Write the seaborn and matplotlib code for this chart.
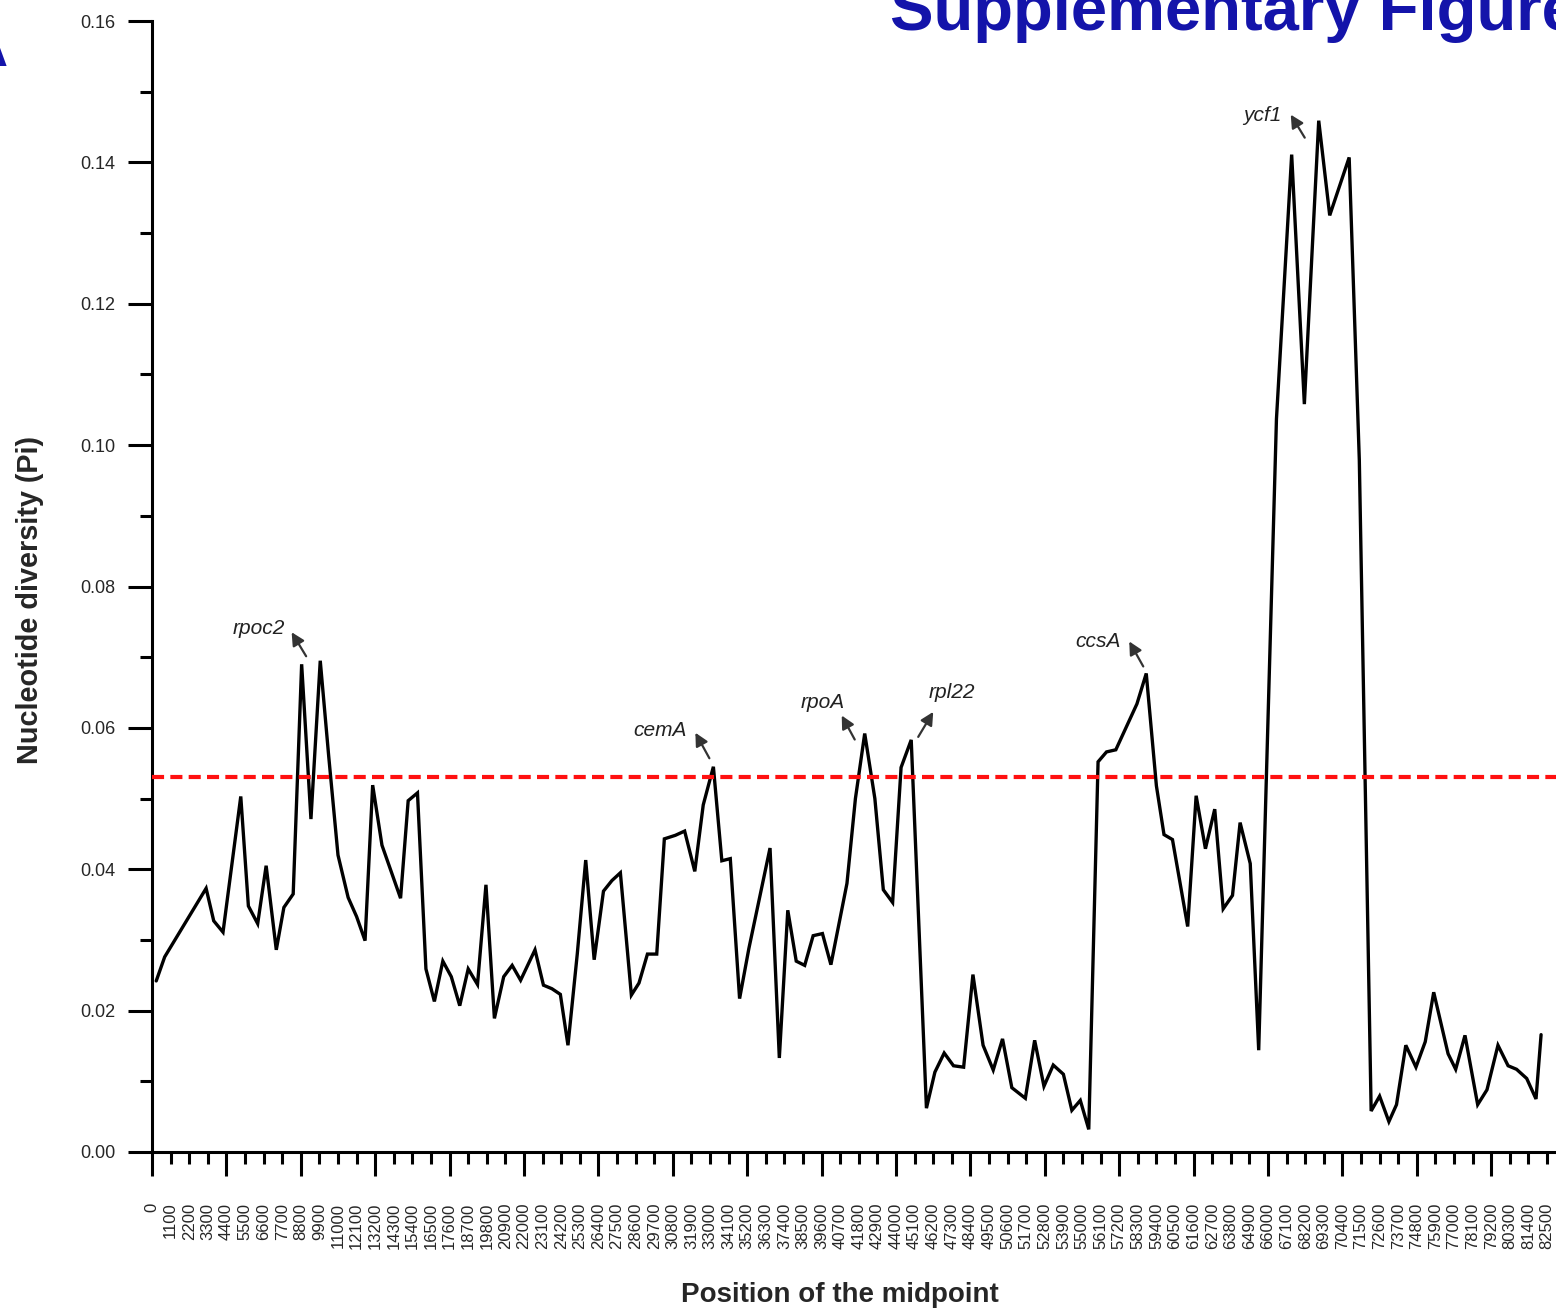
import numpy as np
import pandas as pd
import matplotlib
matplotlib.use("Agg")
import matplotlib.pyplot as plt
import matplotlib.transforms as mtrans
from matplotlib.ticker import FormatStrFormatter, MultipleLocator
import seaborn as sns

# ---------------- data ----------------
positions = [250, 750, 3200, 3650, 4200, 5250, 5700, 6250, 6750, 7350,
             7800, 8350, 8850, 9400, 9950, 10450, 11000, 11600, 12100, 12600,
             13050, 13600, 14700, 15150, 15700, 16200, 16700, 17200, 17700, 18200,
             18700, 19250, 19750, 20250, 20800, 21300, 21800, 22650, 23150, 23650,
             24150, 24600, 25150, 25650, 26150, 26700, 27200, 27700, 28350, 28800,
             29300, 29850, 30300, 30950, 31500, 32100, 32600, 33200, 33700, 34200,
             34750, 35300, 36550, 37100, 37600, 38100, 38600, 39100, 39650, 40150,
             41100, 41600, 42150, 42750, 43250, 43800, 44300, 44900, 45800, 46300,
             46850, 47400, 48000, 48550, 49150, 49750, 50300, 50850, 51650, 52200,
             52750, 53300, 53900, 54400, 54900, 55400, 55950, 56450, 57000, 58250,
             58800, 59400, 59850, 60350, 61250, 61750, 62300, 62850, 63350, 63900,
             64350, 64950, 65450, 66500, 67400, 68150, 69000, 69650, 70800, 71400,
             72100, 72600, 73150, 73600, 74150, 74750, 75300, 75800, 76650, 77100,
             77650, 78400, 78950, 79600, 80200, 80700, 81300, 81850, 82150]

pi_values = [0.0242, 0.0276, 0.0373, 0.0327, 0.0311, 0.0503, 0.0348, 0.0323, 0.0405, 0.0286,
             0.0346, 0.0365, 0.0690, 0.0471, 0.0695, 0.0560, 0.0420, 0.0360, 0.0333, 0.0299,
             0.0519, 0.0434, 0.0359, 0.0497, 0.0508, 0.0259, 0.0213, 0.0270, 0.0248, 0.0207,
             0.0259, 0.0237, 0.0378, 0.0189, 0.0248, 0.0264, 0.0243, 0.0286, 0.0236, 0.0231,
             0.0223, 0.0151, 0.0280, 0.0413, 0.0272, 0.0369, 0.0384, 0.0395, 0.0222, 0.0239,
             0.0280, 0.0280, 0.0443, 0.0448, 0.0454, 0.0397, 0.0491, 0.0545, 0.0412, 0.0415,
             0.0217, 0.0288, 0.0430, 0.0133, 0.0342, 0.0270, 0.0264, 0.0306, 0.0309, 0.0265,
             0.0380, 0.0500, 0.0592, 0.0500, 0.0371, 0.0353, 0.0544, 0.0583, 0.0062, 0.0113,
             0.0140, 0.0122, 0.0120, 0.0251, 0.0151, 0.0116, 0.0160, 0.0091, 0.0076, 0.0158,
             0.0093, 0.0123, 0.0110, 0.0059, 0.0073, 0.0032, 0.0552, 0.0566, 0.0569, 0.0634,
             0.0677, 0.0518, 0.0449, 0.0442, 0.0319, 0.0504, 0.0429, 0.0485, 0.0344, 0.0363,
             0.0466, 0.0408, 0.0144, 0.1037, 0.1411, 0.1058, 0.1459, 0.1325, 0.1407, 0.0979,
             0.0058, 0.0079, 0.0043, 0.0067, 0.0151, 0.0120, 0.0156, 0.0226, 0.0139, 0.0117,
             0.0165, 0.0067, 0.0088, 0.0151, 0.0122, 0.0117, 0.0104, 0.0075, 0.0166]

threshold = 0.053

x_tick_values = list(range(0, 82501, 1100))
x_tick_labels = [str(v) for v in x_tick_values]
y_tick_values = [0.00, 0.02, 0.04, 0.06, 0.08, 0.10, 0.12, 0.14, 0.16]

gene_names = ["rpoc2", "cemA", "rpoA", "rpl22", "ccsA", "ycf1"]
gene_positions = [8850, 33200, 42150, 44900, 58800, 69000]

# ---------------- styling ----------------
sns.set_theme(style="ticks")
plt.rcParams['font.family'] = ['Liberation Sans', 'DejaVu Sans']

W, H = 1556, 1314
fig = plt.figure(figsize=(W / 100, H / 100), dpi=100)
ax = fig.add_axes([152 / W, 1 - 1152 / H, (W - 152) / W, (1152 - 21) / H])

df = pd.DataFrame({"Position": positions, "Pi": pi_values})
sns.lineplot(data=df, x="Position", y="Pi", ax=ax, color="black",
             linewidth=2.4, estimator=None, sort=False)
for ln in ax.get_lines():
    ln.set_solid_joinstyle("miter")

ax.axhline(threshold, color="#ff1010", linewidth=3.0, linestyle=(0, (2.9, 1.5)),
           zorder=3)

ax.set_xlim(0, (W - 152) * 1100 / 18.6)
ax.set_ylim(0, 0.16)

for s in ["top", "right"]:
    ax.spines[s].set_visible(False)
for s in ["left", "bottom"]:
    ax.spines[s].set_linewidth(2.2)
    ax.spines[s].set_color("black")

# x ticks: long every 4th, short otherwise, all labelled
major_idx = [i for i, v in enumerate(x_tick_values) if v % 4400 == 0]
minor_idx = [i for i, v in enumerate(x_tick_values) if v % 4400 != 0]
ax.set_xticks([x_tick_values[i] for i in major_idx],
              labels=[x_tick_labels[i] for i in major_idx])
ax.set_xticks([x_tick_values[i] for i in minor_idx],
              labels=[x_tick_labels[i] for i in minor_idx], minor=True)
ax.tick_params(axis="x", which="major", direction="out", length=17, width=2.2,
               pad=19.5, labelsize=12, labelrotation=90, color="black")
ax.tick_params(axis="x", which="minor", direction="out", length=8.6, width=2.2,
               pad=19.5 + 8.4, labelsize=12, labelrotation=90, color="black")

ax.set_yticks(y_tick_values)
ax.yaxis.set_major_formatter(FormatStrFormatter("%.2f"))
ax.yaxis.set_minor_locator(MultipleLocator(0.01))
ax.tick_params(axis="y", which="major", direction="out", length=17, width=2.2,
               pad=9.5, labelsize=13, color="black")
ax.tick_params(axis="y", which="minor", direction="out", length=9, width=2.2,
               color="black")

ax.set_xlabel("Position of the midpoint", fontsize=20, fontweight="bold")
ax.set_ylabel("Nucleotide diversity (Pi)", fontsize=20.8, fontweight="bold")
ax.xaxis.set_label_coords(0.49, -0.115)
ax.yaxis.set_label_coords((44 - 152) / (W - 152), 0.488)

# gene annotations (offsets in pixels from the peak)
label_offsets = {
    "rpoc2": ((-43, 36), (-10, 32), (4.5, 8)),
    "cemA": ((-53, 36), (-18, 34), (-4, 8.5)),
    "rpoA": ((-42, 31), (-23, 18), (-10, -6)),
    "rpl22": ((41, 47), (22, 28), (7, 3)),
    "ccsA": ((-48, 32), (-17, 32), (-3, 7)),
    "ycf1": ((-56, 5), (-28, 6), (-14, -17)),
}
for name, gx in zip(gene_names, gene_positions):
    gy = df.loc[df.Position == gx, "Pi"].iloc[0]
    (tdx, tdy), (hdx, hdy), (sdx, sdy) = label_offsets[name]
    head_tr = mtrans.offset_copy(ax.transData, fig=fig, x=hdx, y=hdy, units="dots")
    tail_tr = mtrans.offset_copy(ax.transData, fig=fig, x=sdx, y=sdy, units="dots")
    ax.annotate("", xy=(gx, gy), xycoords=head_tr, xytext=(gx, gy), textcoords=tail_tr,
                arrowprops=dict(arrowstyle="-|>,head_length=0.55,head_width=0.28",
                                color="#333333", lw=1.6, shrinkA=0, shrinkB=0,
                                mutation_scale=14))
    ax.annotate(name, xy=(gx, gy), xytext=(tdx, tdy), textcoords="offset pixels",
                ha="center", va="center", fontstyle="italic", fontsize=15,
                color="#222222")

# page-level texts (partially cut by the page edge, as in the reference)
fig.text(890 / W, 1 - 30 / H, "Supplementary Figure", color="#1414aa",
         fontsize=47, fontweight="bold", ha="left", va="baseline")
fig.text(8 / W, 1 - 66 / H, "A", color="#1414aa", fontsize=40,
         fontweight="bold", ha="right", va="baseline")

fig.savefig("out.png", dpi=100)
